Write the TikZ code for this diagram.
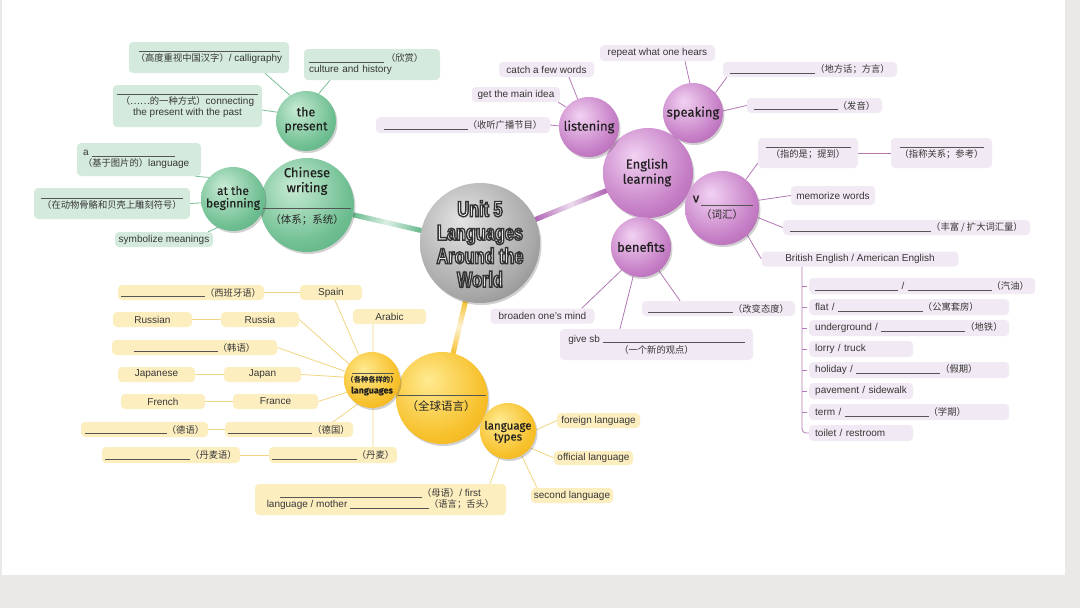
\documentclass[tikz,border=0pt]{standalone}
\usepackage{fontspec}
\setmainfont{Liberation Sans}
\newfontfamily\cjk{Noto Sans CJK SC}
\newfontfamily\bubf[FakeBold=0.3]{Fira Sans}
\newfontfamily\titf[FakeStretch=0.74]{Liberation Sans}
\usetikzlibrary{calc,shadows}

\definecolor{pagebg}{RGB}{234,233,231}
\definecolor{labtext}{RGB}{55,55,55}
\definecolor{blankc}{RGB}{85,85,85}
\definecolor{gboxc}{RGB}{212,234,220}
\definecolor{pboxc}{RGB}{241,233,243}
\definecolor{yboxc}{RGB}{253,238,192}
\definecolor{glinec}{RGB}{120,190,150}
\definecolor{plinec}{RGB}{180,120,182}
\definecolor{ylinec}{RGB}{240,214,130}
\definecolor{gL}{RGB}{200,235,212}
\definecolor{gM}{RGB}{110,190,145}
\definecolor{gD}{RGB}{70,160,110}
\definecolor{pL}{RGB}{242,210,242}
\definecolor{pM}{RGB}{196,124,196}
\definecolor{pD}{RGB}{150,78,150}
\definecolor{yL}{RGB}{255,234,145}
\definecolor{yM}{RGB}{247,192,42}
\definecolor{yD}{RGB}{232,160,20}
\definecolor{cL}{RGB}{228,228,228}
\definecolor{cM}{RGB}{168,168,168}
\definecolor{cD}{RGB}{98,98,98}
\definecolor{glink}{RGB}{95,182,135}
\definecolor{plink}{RGB}{172,92,176}
\definecolor{ylink}{RGB}{245,190,40}

\pgfdeclareradialshading{gshade}{\pgfpoint{-8bp}{10bp}}{color(0bp)=(gL); color(28bp)=(gM); color(50bp)=(gD); color(80bp)=(gD)}
\pgfdeclareradialshading{pshade}{\pgfpoint{-8bp}{10bp}}{color(0bp)=(pL); color(28bp)=(pM); color(50bp)=(pD); color(80bp)=(pD)}
\pgfdeclareradialshading{yshade}{\pgfpoint{-8bp}{10bp}}{color(0bp)=(yL); color(28bp)=(yM); color(50bp)=(yD); color(80bp)=(yD)}
\pgfdeclareradialshading{cshade}{\pgfpoint{-8bp}{10bp}}{color(0bp)=(cL); color(28bp)=(cM); color(50bp)=(cD); color(80bp)=(cD)}

\pgfdeclarelayer{bg}
\pgfsetlayers{bg,main}

\newcommand\blank[1]{\textcolor{blankc}{\rule[-0.8pt]{#1pt}{0.5pt}}}
\newcommand\zh[1]{{\cjk\fontsize{9.3}{11}\selectfont #1}}
\newcommand\outl[1]{\special{pdf:literal direct 0.2 0.2 0.2 RG 1.4 w 2 Tr}#1\special{pdf:literal direct 0 Tr}}
\newcommand\gradlink[3]{%
  \foreach \i in {0,...,23}{%
    \pgfmathsetmacro\ta{\i/24}%
    \pgfmathsetmacro\tb{(\i+1.3)/24}%
    \pgfmathsetmacro\mm{int(22+72*abs(2*(\i+0.5)/24-1))}%
    \draw[line width=5pt, #3!\mm!white] ($(#1)!\ta!(#2)$) -- ($(#1)!\tb!(#2)$);
  }}

\tikzset{
  lbl/.style={rounded corners=4pt, inner sep=0pt, text=labtext,
    font=\fontsize{10}{11}\selectfont, align=center, minimum height=15pt},
  gbox/.style={lbl, fill=gboxc},
  pbox/.style={lbl, fill=pboxc},
  ybox/.style={lbl, fill=yboxc},
  litem/.style={pbox, anchor=west, align=left, inner xsep=6pt, minimum height=16pt},
  gline/.style={draw=glinec, line width=0.8pt},
  pline/.style={draw=plinec, line width=0.8pt},
  yline/.style={draw=ylinec, line width=0.8pt},
  chord/.style={draw=blankc, line width=0.5pt},
  ball/.style={circle, inner sep=0pt, draw=none,
    drop shadow={shadow xshift=1.5pt, shadow yshift=-2pt, opacity=0.18, fill=black}},
  gball/.style={ball, shading=gshade},
  pball/.style={ball, shading=pshade},
  yball/.style={ball, shading=yshade},
  cball/.style={ball, shading=cshade},
  btext/.style={font=\bubf\fontsize{13}{15}\selectfont, align=center, text=black!88, inner sep=0pt},
  bzh/.style={font=\cjk\fontsize{10.5}{12}\selectfont, text=black!85, inner sep=0pt},
  tittext/.style={font=\titf\bfseries\fontsize{22}{23.5}\selectfont, align=center, inner sep=0pt},
}

\begin{document}
\begin{tikzpicture}[x=1pt,y=-1pt]
\useasboundingbox (0,0) rectangle (1080,608);

% ---------- balls ----------
\node[cball, minimum size=120pt] (cen) at (480,243) {};

\node[gball, minimum size=94pt] (cw) at (307,205) {};
\node[gball, minimum size=60pt] (tp) at (306,121) {};
\node[gball, minimum size=64pt] (atb) at (233,199) {};

\node[pball, minimum size=90pt] (el) at (648,173) {};
\node[pball, minimum size=60pt] (li) at (589,127) {};
\node[pball, minimum size=60pt] (sp) at (693,113) {};
\node[pball, minimum size=74pt] (vv) at (722,208) {};
\node[pball, minimum size=60pt] (be) at (641,247) {};

\node[yball, minimum size=92pt] (yb) at (442,398) {};
\node[yball, minimum size=56pt] (la) at (372,380) {};
\node[yball, minimum size=56pt] (lt) at (508,431) {};

% ---------- ball texts ----------
\node[tittext, text=white] (tit) at (480,244) {\outl{Unit 5}\\\outl{Languages}\\\outl{Around the}\\\outl{World}};

\node[btext] (cwt) at (307,181) {Chinese\\writing};
\draw[chord] (263,208) -- (351,208);
\node[bzh] (cwz) at (307,220) {（体系；系统）};
\node[btext, font=\bubf\fontsize{12.5}{14}\selectfont] (tpt) at (306,120) {the\\present};
\node[btext, font=\bubf\fontsize{12}{12.5}\selectfont] (atbt) at (233,198) {at the\\beginning};

\node[btext] (elt) at (647,172.5) {English\\learning};
\node[btext] (lit) at (589,127) {listening};
\node[btext] (spt) at (693,113) {speaking};
\node[btext] (bet) at (641,247) {benefits};
\node[btext] (vt) at (696,199) {v};
\draw[chord] (701,205) -- (753,205);
\node[bzh] (vz) at (722,215) {（词汇）};

\draw[chord] (352,373) -- (394,373);
\node[bzh, font=\cjk\bfseries\fontsize{7.3}{8}\selectfont] (laz) at (372,379.5) {（各种各样的）};
\node[btext, font=\bubf\bfseries\fontsize{9}{10}\selectfont] (lat) at (372,391) {languages};
\draw[chord] (398,395) -- (486,395);
\node[bzh, font=\cjk\fontsize{11.5}{13}\selectfont] (ybz) at (441,406.5) {（全球语言）};
\node[btext, font=\bubf\fontsize{11.5}{11}\selectfont] (ltt) at (508,432) {language\\types};

% ---------- green labels ----------
\node[gbox, minimum width=160pt, minimum height=31pt] (g1) at (209,57.5) {\blank{141}\\\zh{（高度重视中国汉字）}/ calligraphy};
\node[gbox, minimum height=31pt, text width=126pt, inner xsep=5pt, align=left] (g2) at (372,64.5) {\blank{75}\hspace{2pt}\zh{（欣赏）}\\culture and history};
\node[gbox, minimum width=149pt, minimum height=42pt] (g3) at (187.5,106) {\blank{141}\\\zh{（……的一种方式）}connecting\\the present with the past};
\node[gbox, minimum height=33pt, text width=112pt, inner xsep=6pt, align=left] (g4) at (139,159.5) {a \blank{83}\\\zh{（基于图片的）}language};
\node[gbox, minimum width=156pt, minimum height=31pt] (g5) at (112,203.5) {\blank{143}\\\zh{（在动物骨骼和贝壳上雕刻符号）}};
\node[gbox, minimum width=98pt] (g6) at (164,239.5) {symbolize meanings};

% ---------- purple labels ----------
\node[pbox, minimum width=95pt] (pcatch) at (546.5,69.5) {catch a few words};
\node[pbox, minimum width=88pt] (pidea) at (516,94.5) {get the main idea};
\node[pbox, minimum width=174pt, minimum height=16pt] (pradio) at (463,125) {\blank{84}\zh{（收听广播节目）}};
\node[pbox, minimum width=115pt, minimum height=16pt] (prep) at (657.5,53) {repeat what one hears};
\node[pbox, minimum width=174pt] (pdial) at (810,69.5) {\blank{85}\zh{（地方话；方言）}};
\node[pbox, minimum width=135pt] (ppron) at (814.5,105.5) {\blank{84}\zh{（发音）}};
\node[pbox, minimum width=100pt, minimum height=30pt] (pref) at (808,153) {\blank{85}\\\zh{（指的是；提到）}};
\node[pbox, minimum width=101pt, minimum height=30pt] (prefn) at (941.5,153) {\blank{84}\\\zh{（指称关系；参考）}};
\node[pbox, minimum width=84pt, minimum height=19pt] (pmem) at (833,195.5) {memorize words};
\node[pbox, minimum width=247pt] (penr) at (906.5,227.5) {\blank{141}\zh{（丰富 / 扩大词汇量）}};
\node[pbox, minimum width=197pt] (pbr) at (860,259) {British English / American English};
\node[pbox, minimum width=104pt, minimum height=15pt] (pbro) at (542.5,316) {broaden one’s mind};
\node[pbox, minimum width=193pt, minimum height=31pt] (pgive) at (656.5,344.5) {give sb \blank{142}\\\zh{（一个新的观点）}};
\node[pbox, minimum width=153pt] (patt) at (718.5,308.5) {\blank{85}\zh{（改变态度）}};

\node[litem, text width=214pt] (i1) at (809,286) {\blank{83} / \blank{84}\zh{（汽油）}};
\node[litem, text width=188pt] (i2) at (809,307) {flat / \blank{85}\zh{（公寓套房）}};
\node[litem, text width=188pt] (i3) at (809,328) {underground / \blank{84}\zh{（地铁）}};
\node[litem, text width=92pt] (i4) at (809,349) {lorry / truck};
\node[litem, text width=188pt] (i5) at (809,370) {holiday / \blank{84}\zh{（假期）}};
\node[litem, text width=92pt] (i6) at (809,391) {pavement / sidewalk};
\node[litem, text width=188pt] (i7) at (809,412) {term / \blank{84}\zh{（学期）}};
\node[litem, text width=92pt] (i8) at (809,433) {toilet / restroom};

% ---------- yellow labels ----------
\node[ybox, minimum width=146pt] (yes) at (191,292.5) {\blank{84}\zh{（西班牙语）}};
\node[ybox, minimum width=62pt] (yspain) at (331,292.5) {Spain};
\node[ybox, minimum width=73pt] (yarab) at (389.5,316.5) {Arabic};
\node[ybox, minimum width=79pt] (yrus) at (152.5,319.5) {Russian};
\node[ybox, minimum width=78pt] (yrusc) at (260,319.5) {Russia};
\node[ybox, minimum width=165pt] (yko) at (194.5,347.5) {\blank{84}\zh{（韩语）}};
\node[ybox, minimum width=77pt] (yjpn) at (156.5,374.5) {Japanese};
\node[ybox, minimum width=77pt] (yjp) at (262.5,374.5) {Japan};
\node[ybox, minimum width=84pt] (yfrl) at (163,401.5) {French};
\node[ybox, minimum width=85pt] (yfr) at (275.5,401.5) {France};
\node[ybox, minimum width=127pt] (yde) at (144.5,429.5) {\blank{82}\zh{（德语）}};
\node[ybox, minimum width=128pt] (ydec) at (289,429.5) {\blank{84}\zh{（德国）}};
\node[ybox, minimum width=138pt, minimum height=16pt] (yda) at (171,455) {\blank{85}\zh{（丹麦语）}};
\node[ybox, minimum width=128pt, minimum height=16pt] (ydac) at (333,455) {\blank{85}\zh{（丹麦）}};
\node[ybox, minimum width=251pt, minimum height=31pt] (ymo) at (380.5,499.5) {\blank{142}\zh{（母语）}/ first\\language / mother \blank{79}\zh{（语言；舌头）}};
\node[ybox, minimum width=83pt] (yfo) at (598.5,420.5) {foreign language};
\node[ybox, minimum width=79pt, minimum height=14pt] (yof) at (593.5,458) {official language};
\node[ybox, minimum width=82pt] (yse) at (572,495.5) {second language};

% ---------- background layer: page, links, connectors ----------
\begin{pgfonlayer}{bg}
  \fill[pagebg] (0,0) rectangle (1080,608);
  \fill[white] (2,0) rectangle (1065,575);

  \gradlink{cw.-12}{cen.168}{glink}
  \gradlink{cen.23}{el.203}{plink}
  \gradlink{cen.-104}{yb.76}{ylink}

  % green
  \draw[gline] ([xshift=56pt]g1.south) -- (tp.122);
  \draw[gline] ([xshift=-42pt]g2.south) -- (tp.65);
  \draw[gline] ([yshift=-4pt]g3.east) -- (tp.163);
  \draw[gline] ([xshift=-6pt]g4.south east) -- (atb.138);
  \draw[gline] (g5.east) -- (atb.187);
  \draw[gline] ([xshift=-5pt]g6.north east) -- (atb.242);

  % purple
  \draw[pline] ([xshift=22.5pt]pcatch.south) -- (li.112);
  \draw[pline] ([xshift=-2pt]pidea.south east) -- (li.139);
  \draw[pline] (pradio.east) -- (li.178);
  \draw[pline] ([xshift=27.5pt]prep.south) -- (sp.96);
  \draw[pline] ([xshift=4pt]pdial.south west) -- (sp.42);
  \draw[pline] (ppron.west) -- (sp.4);
  \draw[pline] ([yshift=-10pt]pref.west) -- (vv.50);
  \draw[pline] (pref.east) -- (prefn.west);
  \draw[pline] (pmem.west) -- (vv.12);
  \draw[pline] (penr.west) -- (vv.-15);
  \draw[pline] (pbr.west) -- (vv.-47);
  \draw[pline] ([xshift=-13pt]pbro.north east) -- (be.230);
  \draw[pline] ([xshift=-36.5pt]pgive.north) -- (be.255);
  \draw[pline] ([xshift=-38.5pt]patt.north) -- (be.-53);
  \draw[pline, rounded corners=4pt] ([xshift=-58pt]pbr.south) |- (i8.west);
  \foreach \n in {i1,i2,i3,i4,i5,i6,i7}{
    \draw[pline] ([xshift=-7pt]\n.west) -- ([xshift=-2pt]\n.west);
  }

  % yellow
  \draw[yline] (yes.east) -- (yspain.west);
  \draw[yline] ([xshift=4pt]yspain.south) -- (la.118);
  \draw[yline] ([xshift=-16.5pt]yarab.south) -- (la.88);
  \draw[yline] (yrus.east) -- (yrusc.west);
  \draw[yline] (yrusc.east) -- (la.145);
  \draw[yline] (yko.east) -- (la.162);
  \draw[yline] (yjpn.east) -- (yjp.west);
  \draw[yline] (yjp.east) -- (la.174);
  \draw[yline] (yfrl.east) -- (yfr.west);
  \draw[yline] (yfr.east) -- (la.206);
  \draw[yline] (yde.east) -- (ydec.west);
  \draw[yline] ([xshift=-20pt]ydec.north east) -- (la.239);
  \draw[yline] (yda.east) -- (ydac.west);
  \draw[yline] ([xshift=40pt]ydac.north) -- (la.272);
  \draw[yline] (lt.2) -- (yfo.west);
  \draw[yline] (lt.-37) -- (yof.west);
  \draw[yline] (lt.-61) -- ([xshift=-35pt]yse.north);
  \draw[yline] (lt.252) -- ([xshift=109.5pt]ymo.north);
\end{pgfonlayer}
\end{tikzpicture}
\end{document}
